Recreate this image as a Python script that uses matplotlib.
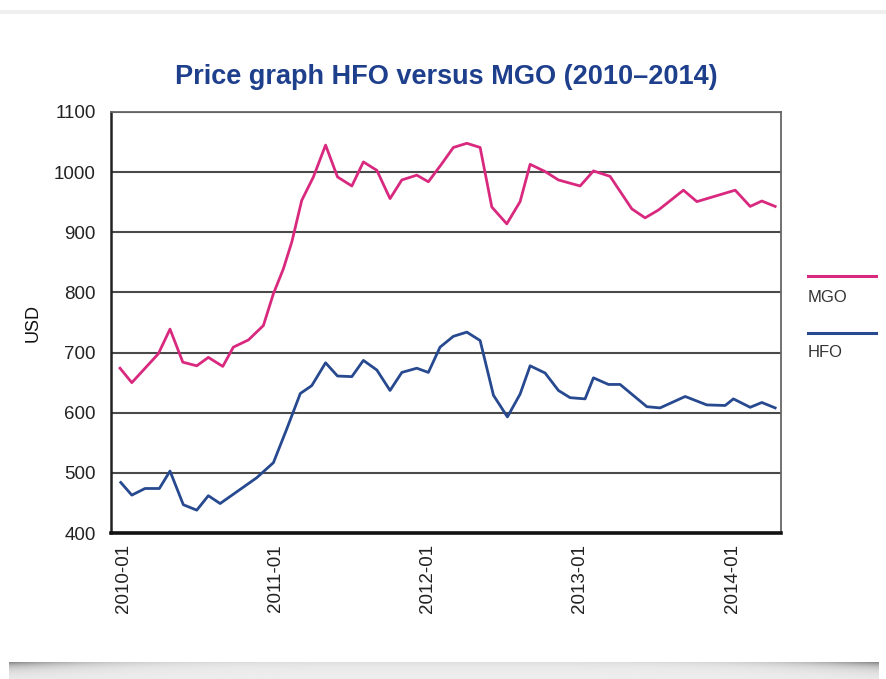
import numpy as np
import matplotlib
matplotlib.use('Agg')
import matplotlib.pyplot as plt
from matplotlib.lines import Line2D

plt.rcParams['font.family'] = ['Liberation Sans', 'DejaVu Sans']

# months since 2010-01
MGO_MONTHS = [-0.24, 0.69, 2.78, 3.70, 4.71, 5.81, 6.72, 7.86, 8.69, 9.88,
              11.06, 11.85, 12.63, 13.30, 14.08, 15.00, 15.96, 16.9, 18.03, 18.94,
              20.0, 21.04, 21.97, 23.15, 24.06, 25.12, 26.03, 27.09, 28.14, 29.06,
              30.24, 31.29, 32.08, 33.26, 34.31, 36.02, 37.07, 38.38, 40.09, 41.14,
              42.19, 44.16, 45.22, 48.24, 49.42, 50.34, 51.39]
MGO_USD = [674, 650, 698, 739, 684, 678, 692, 677, 709, 721,
           745, 798, 839, 884, 953, 992, 1045, 992, 977, 1017,
           1003, 956, 987, 995, 984, 1014, 1041, 1048, 1041, 942,
           914, 951, 1013, 1001, 987, 977, 1002, 993, 939, 924,
           937, 970, 951, 970, 943, 952, 943]

HFO_MONTHS = [-0.18, 0.69, 1.73, 2.86, 3.70, 4.75, 5.81, 6.72, 7.65, 10.54,
              11.85, 12.9, 13.97, 14.87, 15.96, 16.9, 18.03, 18.94, 20.0, 21.04,
              21.97, 23.15, 24.06, 24.98, 26.03, 27.09, 28.14, 29.19, 30.29, 31.29,
              32.08, 33.26, 34.31, 35.23, 36.41, 37.07, 38.25, 39.17, 41.28, 42.32,
              44.30, 46.0, 47.45, 48.1, 49.42, 50.34, 51.39]
HFO_USD = [484, 463, 474, 474, 503, 447, 438, 462, 449, 492,
           517, 573, 632, 645, 683, 661, 660, 687, 671, 637,
           667, 674, 667, 709, 727, 734, 720, 629, 593, 631,
           678, 666, 637, 625, 623, 658, 647, 647, 610, 608,
           627, 613, 612, 623, 609, 617, 608]

TICK_MONTHS = [0, 12, 24, 36, 48]
TICK_LABELS = ['2010-01', '2011-01', '2012-01', '2013-01', '2014-01']
Y_TICKS = [400, 500, 600, 700, 800, 900, 1000, 1100]

MGO_COLOR = '#d9297f'
HFO_COLOR = '#27498f'

fig = plt.figure(figsize=(8.87, 6.79), dpi=100)
fig.patch.set_facecolor('white')

# top grey band and bottom shadow of the card
band = fig.add_axes([0, 1 - 14 / 679, 1, 4 / 679])
band.axis('off')
band.imshow(np.ones((1, 10)), cmap='gray', vmin=0, vmax=1.07, aspect='auto')
shadow = fig.add_axes([0.01, 0, 0.98, 17 / 679])
shadow.axis('off')
xs = np.linspace(-1, 1, 400)
ys = np.linspace(0, 1, 40)[:, None]
shade = 0.93 - 0.35 * (np.abs(xs) ** 5)[None, :] * np.exp(-ys * 3) - 0.06 * np.exp(-ys * 4)
shadow.imshow(shade, cmap='gray', vmin=0, vmax=1, aspect='auto', interpolation='bilinear')

ax = fig.add_axes([111 / 887, 1 - 533 / 679, 670 / 887, 421 / 679])
ax.plot(MGO_MONTHS, MGO_USD, color=MGO_COLOR, lw=2.0, solid_joinstyle='round', zorder=3)
ax.plot(HFO_MONTHS, HFO_USD, color=HFO_COLOR, lw=2.0, solid_joinstyle='round', zorder=3)

ax.set_xlim(-0.95, 51.85)
ax.set_ylim(400, 1100)
ax.set_yticks(Y_TICKS)
ax.set_xticks(TICK_MONTHS)
ax.set_xticklabels(TICK_LABELS, rotation=90)
ax.tick_params(axis='both', length=0, labelsize=13.5, colors='#222222')
ax.tick_params(axis='y', pad=11)
ax.tick_params(axis='x', pad=8)
ax.yaxis.grid(True, color='#4a4a4a', lw=1.5)
ax.set_axisbelow(True)
for side in ['top', 'right']:
    ax.spines[side].set_color('#666666')
    ax.spines[side].set_linewidth(1.3)
ax.spines['left'].set_color('#222222')
ax.spines['left'].set_linewidth(1.8)
ax.spines['bottom'].set_color('#111111')
ax.spines['bottom'].set_linewidth(2.6)

ax.set_ylabel('USD', fontsize=13, color='#111111', labelpad=9)
ax.set_title('Price graph HFO versus MGO (2010\u20132014)', fontsize=19.5,
             fontweight='bold', color='#1e3f8c', pad=20)

# legend to the right: line above label
fig.add_artist(Line2D([808 / 887, 876 / 887], [1 - 276 / 679] * 2, color=MGO_COLOR, lw=2.2))
fig.text(808 / 887, 1 - 297 / 679, 'MGO', fontsize=12, color='#333333', va='center')
fig.add_artist(Line2D([808 / 887, 876 / 887], [1 - 333 / 679] * 2, color=HFO_COLOR, lw=2.2))
fig.text(808 / 887, 1 - 352 / 679, 'HFO', fontsize=12, color='#333333', va='center')

fig.savefig('out.png', dpi=100)
